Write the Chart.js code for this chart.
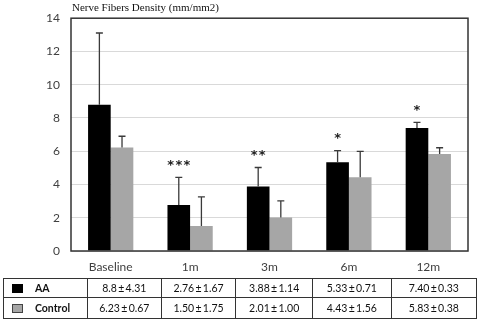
<!DOCTYPE html>
<html>
<head>
<meta charset="utf-8">
<script src="https://cdn.jsdelivr.net/npm/chart.js@4/dist/chart.umd.min.js"></script>
<style>
  html, body { margin:0; padding:0; background:#fff; }
  #wrap { position:relative; width:477px; height:321px; overflow:hidden; }
  canvas { position:absolute; left:0; top:0; }
  table { position:absolute; left:3px; top:278px; border-collapse:collapse; font-family:Lato, "Open Sans", sans-serif; font-size:10.5px; color:#111; }
  td { border:1px solid #333; text-align:center; padding:0; }
  tr.r1 td { height:18px; }
  tr.r2 td { height:20px; }
  td.lab { text-align:left; font-weight:bold; padding-left:8px; }
  .sw { display:inline-block; width:11px; height:9px; vertical-align:-1px; margin-right:12px; box-sizing:border-box; }
</style>
</head>
<body>
<div id="wrap">
<canvas id="c" width="477" height="321"></canvas>
<table id="tbl"></table>
</div>
<script>
const categories = ["Baseline", "1m", "3m", "6m", "12m"];
const aaValues = [8.8, 2.76, 3.88, 5.33, 7.40];
const aaSD = [4.31, 1.67, 1.14, 0.71, 0.33];
const controlValues = [6.23, 1.50, 2.01, 4.43, 5.83];
const controlSD = [0.67, 1.75, 1.00, 1.56, 0.38];
const significance = ["", "***", "**", "*", "*"];
const seriesNames = ["AA", "Control"];
const yTicks = [0, 2, 4, 6, 8, 10, 12, 14];
const titleText = "Nerve Fibers Density (mm/mm2)";

const colors = ["#000000", "#a6a6a6"];
const sds = [aaSD, controlSD];

// table
const colW = [76, 74, 75, 77, 79, 86];
const tbl = document.getElementById('tbl');
const aaFmt = aaValues.map((v,i)=> (i===0 ? "8.8" : v.toFixed(2)) + "\u2009\u00b1\u2009" + aaSD[i].toFixed(2));
const ctFmt = controlValues.map((v,i)=> v.toFixed(2) + "\u2009\u00b1\u2009" + controlSD[i].toFixed(2));
[aaFmt, ctFmt].forEach((row, r) => {
  const tr = document.createElement('tr');
  tr.className = r === 0 ? 'r1' : 'r2';
  const td0 = document.createElement('td');
  td0.className = 'lab';
  td0.style.width = colW[0] + 'px';
  const sw = document.createElement('span');
  sw.className = 'sw';
  sw.style.background = colors[r];
  if (r === 1) sw.style.border = '1px solid #444';
  td0.appendChild(sw);
  td0.appendChild(document.createTextNode(seriesNames[r]));
  tr.appendChild(td0);
  row.forEach((t, i) => {
    const td = document.createElement('td');
    td.style.width = colW[i+1] + 'px';
    td.textContent = t;
    tr.appendChild(td);
  });
  tbl.appendChild(tr);
});

const errPlugin = {
  id: 'err',
  afterDatasetsDraw(chart) {
    const ctx = chart.ctx;
    const y = chart.scales.y;
    ctx.save();
    chart.data.datasets.forEach((ds, di) => {
      const meta = chart.getDatasetMeta(di);
      meta.data.forEach((bar, i) => {
        const top = y.getPixelForValue(ds.data[i] + sds[di][i]);
        ctx.strokeStyle = '#3a3a3a';
        ctx.lineWidth = 1.3;
        ctx.beginPath();
        ctx.moveTo(bar.x, bar.y);
        ctx.lineTo(bar.x, top);
        ctx.moveTo(bar.x - 3.5, top);
        ctx.lineTo(bar.x + 3.5, top);
        ctx.stroke();
        if (di === 0 && significance[i]) {
          ctx.fillStyle = '#222';
          ctx.font = 'bold 13px "DejaVu Sans"';
          ctx.textAlign = 'center';
          ctx.textBaseline = 'middle';
          ctx.fillText(significance[i].split('').join('\u200a'), bar.x, top - 12);
        }
      });
    });
    const a = chart.chartArea;
    ctx.strokeStyle = '#333';
    ctx.lineWidth = 1.5;
    ctx.strokeRect(a.left, a.top, a.right - a.left, a.bottom - a.top);
    ctx.fillStyle = '#111';
    ctx.font = '11px "Liberation Serif"';
    ctx.textAlign = 'left';
    ctx.textBaseline = 'alphabetic';
    ctx.fillText(titleText, a.left + 1, 11);
    ctx.restore();
  }
};

new Chart(document.getElementById('c'), {
  type: 'bar',
  data: {
    labels: categories,
    datasets: [
      { label: seriesNames[0], data: aaValues, backgroundColor: colors[0], categoryPercentage: 0.57, barPercentage: 1.0 },
      { label: seriesNames[1], data: controlValues, backgroundColor: colors[1], categoryPercentage: 0.57, barPercentage: 1.0 }
    ]
  },
  options: {
    responsive: false,
    devicePixelRatio: 1,
    animation: false,
    layout: { padding: { left: 0, right: 9, top: 15, bottom: 45 } },
    plugins: { legend: { display: false }, tooltip: { enabled: false } },
    scales: {
      x: {
        grid: { display: false },
        border: { display: false },
        ticks: { color: '#404040', font: { family: 'Lato', size: 12 }, padding: 1 },
        afterFit(s) { s.height = 25; }
      },
      y: {
        min: 0, max: 14,
        afterBuildTicks(s) { s.ticks = yTicks.map(v => ({ value: v })); },
        grid: { color: '#d9d9d9', lineWidth: 1, drawTicks: false },
        border: { display: false },
        ticks: { color: '#404040', font: { family: 'Lato', size: 12 }, padding: 11 },
        afterFit(s) { s.width = 71; }
      }
    }
  },
  plugins: [errPlugin]
});
</script>
</body>
</html>
